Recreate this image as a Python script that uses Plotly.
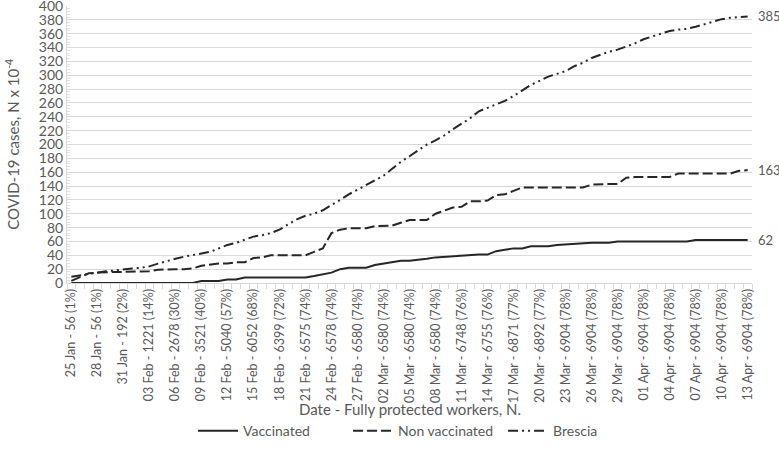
import plotly.graph_objects as go

# ---- data ----
tick_dates = ["25 Jan", "28 Jan", "31 Jan", "03 Feb", "06 Feb", "09 Feb", "12 Feb", "15 Feb",
              "18 Feb", "21 Feb", "24 Feb", "27 Feb", "02 Mar", "05 Mar", "08 Mar", "11 Mar",
              "14 Mar", "17 Mar", "20 Mar", "23 Mar", "26 Mar", "29 Mar", "01 Apr", "04 Apr",
              "07 Apr", "10 Apr", "13 Apr"]
tick_workers = ["56 (1%)", "56 (1%)", "192 (2%)", "1221 (14%)", "2678 (30%)", "3521 (40%)",
                "5040 (57%)", "6052 (68%)", "6399 (72%)", "6575 (74%)", "6578 (74%)",
                "6580 (74%)", "6580 (74%)", "6580 (74%)", "6580 (74%)", "6748 (76%)",
                "6755 (76%)", "6871 (77%)", "6892 (77%)", "6904 (78%)", "6904 (78%)",
                "6904 (78%)", "6904 (78%)", "6904 (78%)", "6904 (78%)", "6904 (78%)",
                "6904 (78%)"]

vaccinated = [0, 0, 0, 0, 0, 0, 0, 0, 0, 0, 0, 0, 0, 0, 0, 3, 3, 3, 5, 5,
              8, 8, 8, 8, 8, 8, 8, 8, 10, 13, 15, 20, 22, 22, 22, 26, 28, 30, 32, 32,
              33, 35, 37, 38, 38, 40, 41, 41, 41, 46, 48, 50, 50, 53, 53, 53, 55, 56, 57, 58,
              58, 58, 58, 60, 60, 60, 60, 60, 60, 60, 60, 60, 62, 62, 62, 62, 62, 62, 62]
non_vaccinated = [3, 8, 14, 15, 16, 16, 16, 16, 17, 17, 19, 20, 20, 20, 21, 25, 27, 28, 28, 30,
                  30, 36, 37, 40, 40, 40, 40, 40, 45, 50, 72, 77, 79, 79, 79, 82, 83, 83, 87, 91,
                  91, 91, 100, 105, 109, 110, 118, 118, 119, 127, 128, 133, 138, 138, 138, 138, 138, 138, 138, 138,
                  142, 143, 143, 143, 152, 153, 153, 153, 153, 153, 158, 158, 158, 158, 158, 158, 158, 162, 163]
brescia = [9, 11, 14, 16, 17, 18, 20, 21, 22, 24, 28, 32, 35, 38, 40, 42, 45, 50, 55, 58,
           63, 67, 69, 72, 77, 84, 92, 97, 100, 105, 112, 120, 128, 135, 142, 148, 155, 165, 175, 183,
           192, 200, 206, 213, 222, 230, 238, 248, 253, 258, 263, 270, 278, 286, 292, 298, 302, 306, 313, 318,
           325, 330, 334, 337, 341, 346, 352, 356, 360, 364, 366, 367, 370, 374, 378, 381, 383, 384, 385]

days = list(range(len(brescia)))
tick_step = 3
tickvals = days[::tick_step]
ticktext = [f"{d} - {w}" for d, w in zip(tick_dates, tick_workers)]

FONT = "Lato, Open Sans, sans-serif"
GRAY = "#595959"
LINE = "#262626"

fig = go.Figure()
series = [
    ("Vaccinated", vaccinated, "solid"),
    ("Non vaccinated", non_vaccinated, "10px,4px"),
    ("Brescia", brescia, "10px,4px,2px,4px,2px,4px"),
]
for name, vals, dash in series:
    fig.add_trace(go.Scatter(x=days, y=vals, mode="lines", name=name,
                             line=dict(color=LINE, width=2, dash=dash)))
    fig.add_annotation(x=days[-1], y=vals[-1], xref="x", yref="y", text=str(vals[-1]),
                       showarrow=False, xanchor="left", xshift=8,
                       font=dict(family=FONT, size=13, color=GRAY))

fig.update_layout(
    width=779, height=462,
    margin=dict(l=67, r=27, t=6, b=179, autoexpand=False),
    paper_bgcolor="white", plot_bgcolor="white",
    font=dict(family=FONT, size=13, color=GRAY),
    showlegend=True,
    legend=dict(orientation="h", x=0.184, xanchor="left", y=-0.535, yanchor="middle",
                font=dict(family=FONT, size=14, color=GRAY), itemwidth=40,
                entrywidth=100, entrywidthmode="pixels", traceorder="normal"),
    xaxis=dict(range=[-0.5, len(days) - 0.5], tickmode="array", tickvals=tickvals,
               ticktext=ticktext, tickangle=-90, ticks="", showgrid=False, automargin=False,
               showline=True, linecolor="#d9d9d9", linewidth=1, zeroline=False,
               tickfont=dict(family=FONT, size=12.5, color=GRAY),
               minor=dict(tickmode="linear", tick0=-0.5, dtick=1, ticks="outside",
                          ticklen=5, tickcolor="#d9d9d9", showgrid=False)),
    yaxis=dict(range=[0, 400], dtick=20, showgrid=True, gridcolor="#d9d9d9", gridwidth=1,
               showline=True, linecolor="#d9d9d9", zeroline=False, ticks="", automargin=False,
               ticklabeloverflow="allow",
               tickfont=dict(family=FONT, size=14, color=GRAY),
               minor=dict(dtick=4, ticks="inside", ticklen=3, tickcolor="#e0e0e0",
                          showgrid=False)),
)

fig.add_annotation(text="Date - Fully protected workers, N.", xref="paper", yref="paper",
                   x=0.5, y=-0.455, xanchor="center", yanchor="middle", showarrow=False,
                   font=dict(family=FONT, size=15, color=GRAY))
fig.add_annotation(text="COVID-19 cases, N x 10<sup>-4</sup>", xref="paper", yref="paper",
                   x=-0.080, y=0.5, xanchor="center", yanchor="middle", textangle=-90,
                   showarrow=False, font=dict(family=FONT, size=15, color=GRAY))

fig.write_html("out.html", config={"displayModeBar": False},
               post_script="document.body.style.margin='0';document.body.style.overflow='hidden';")
